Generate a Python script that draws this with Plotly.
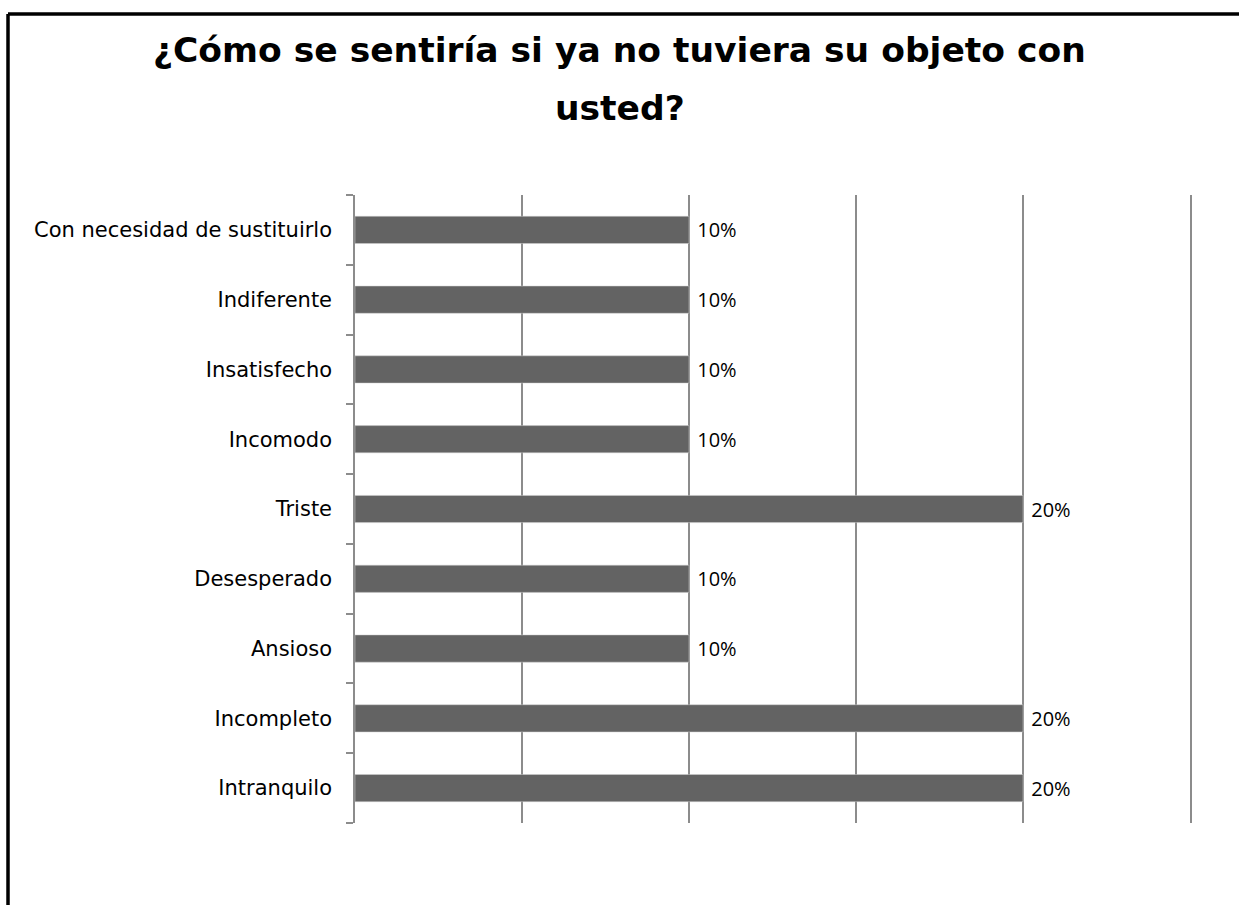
import plotly.graph_objects as go

# categories listed bottom to top (plotly draws first category at the bottom)
categories = [
    "Intranquilo",
    "Incompleto",
    "Ansioso",
    "Desesperado",
    "Triste",
    "Incomodo",
    "Insatisfecho",
    "Indiferente",
    "Con necesidad de sustituirlo",
]
values = [0.20, 0.20, 0.10, 0.10, 0.20, 0.10, 0.10, 0.10, 0.10]

title_lines = ["¿Cómo se sentiría si ya no tuviera su objeto con", "usted?"]

W, H = 1239, 905
ml, mr, mt, mb = 355, 49, 195, 82

fig = go.Figure()

fig.add_trace(
    go.Bar(
        x=values,
        y=categories,
        orientation="h",
        marker=dict(color="#636363", line=dict(color="#d0d0d0", width=0.5)),
        texttemplate="\u00a0%{x:.0%}",
        textposition="outside",
        textfont=dict(family="Open Sans", size=20, color="black"),
        cliponaxis=False,
        width=0.39,
    )
)

# helpers: page pixels -> paper coords of the plot area
pw = W - ml - mr
ph = H - mt - mb
def px_x(p):
    return (p - ml) / pw
def px_y(p):
    return (H - mb - p) / ph

# frame border round the chart (clipped at right and bottom in the reference)
fig.add_shape(type="line", xref="paper", yref="paper",
              x0=px_x(8), x1=px_x(W + 5), y0=px_y(14), y1=px_y(14),
              line=dict(color="black", width=3.5))
fig.add_shape(type="line", xref="paper", yref="paper",
              x0=px_x(8), x1=px_x(8), y0=px_y(14), y1=px_y(H + 5),
              line=dict(color="black", width=3.5))

# title, two lines with the wide line spacing of the original
for line, ypix in zip(title_lines, [50, 108]):
    fig.add_annotation(
        text="<b>" + line + "</b>",
        xref="paper", yref="paper",
        x=px_x(W / 2), y=px_y(ypix),
        xanchor="center", yanchor="middle",
        showarrow=False,
        font=dict(size=34.5, color="black"),
    )

fig.update_xaxes(
    range=[0, 0.25],
    dtick=0.05,
    showgrid=True,
    gridcolor="#8c8c8c",
    gridwidth=1.5,
    showticklabels=False,
    zeroline=False,
    showline=False,
)

fig.update_yaxes(
    type="category",
    tickson="boundaries",
    ticks="outside",
    ticklen=7,
    tickcolor="#8c8c8c",
    tickwidth=1.5,
    showline=True,
    mirror=True,  # right edge line stands in for the 25% gridline
    linecolor="#8c8c8c",
    linewidth=1.5,
    showgrid=False,
    tickfont=dict(family="DejaVu Sans", size=21, color="black"),
    ticklabelstandoff=17,
)

fig.update_layout(
    width=W,
    height=H,
    margin=dict(l=ml, r=mr, t=mt, b=mb),
    plot_bgcolor="white",
    paper_bgcolor="white",
    font=dict(family="DejaVu Sans, sans-serif", color="black"),
    showlegend=False,
)

fig.write_html("out.html", post_script="document.body.style.margin='0';",
               config={"displayModeBar": False})
